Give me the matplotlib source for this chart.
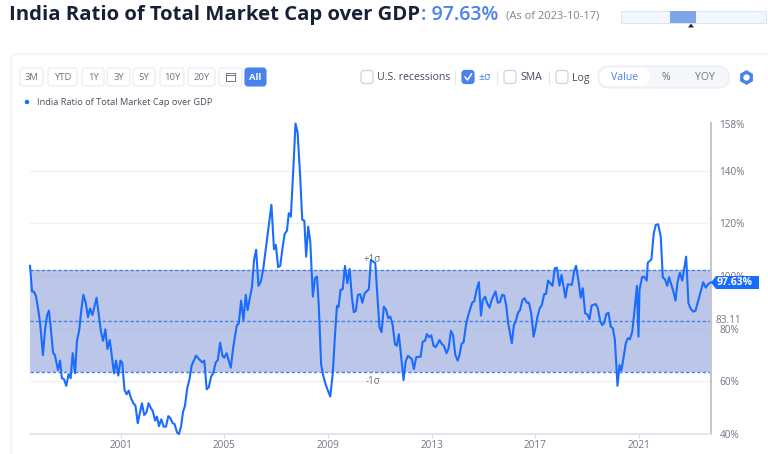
import matplotlib
matplotlib.use('Agg')
import matplotlib.pyplot as plt
from matplotlib.patches import FancyBboxPatch, Rectangle, Polygon, Circle

plt.rcParams.update({'font.family': ['Open Sans', 'DejaVu Sans'], 'font.size': 8})

years = [
    1997.50, 1997.58, 1997.65, 1997.73, 1997.82, 1997.89, 1998.00, 1998.08, 1998.16, 1998.23,
    1998.31, 1998.39, 1998.46, 1998.58, 1998.66, 1998.73, 1998.81, 1998.90, 1998.99, 1999.07,
    1999.15, 1999.24, 1999.31, 1999.40, 1999.48, 1999.56, 1999.65, 1999.74, 1999.82, 1999.91,
    2000.07, 2000.18, 2000.24, 2000.32, 2000.41, 2000.49, 2000.58, 2000.67, 2000.74, 2000.82,
    2000.91, 2000.99, 2001.06, 2001.15, 2001.23, 2001.31, 2001.40, 2001.49, 2001.57, 2001.66,
    2001.82, 2001.91, 2001.99, 2002.08, 2002.17, 2002.24, 2002.33, 2002.40, 2002.48, 2002.57,
    2002.66, 2002.75, 2002.84, 2002.92, 2003.01, 2003.08, 2003.18, 2003.25, 2003.33, 2003.41,
    2003.48, 2003.57, 2003.65, 2003.74, 2003.91, 2004.06, 2004.15, 2004.23, 2004.32, 2004.40,
    2004.49, 2004.58, 2004.67, 2004.75, 2004.84, 2004.93, 2005.00, 2005.09, 2005.25, 2005.35,
    2005.48, 2005.56, 2005.65, 2005.74, 2005.83, 2005.90, 2006.07, 2006.15, 2006.23, 2006.32,
    2006.41, 2006.50, 2006.60, 2006.68, 2006.82, 2006.92, 2006.99, 2007.08, 2007.16, 2007.24,
    2007.33, 2007.42, 2007.49, 2007.57, 2007.67, 2007.75, 2007.83, 2007.93, 2008.01, 2008.09,
    2008.16, 2008.24, 2008.32, 2008.42, 2008.50, 2008.58, 2008.65, 2008.74, 2008.83, 2008.92,
    2009.09, 2009.19, 2009.27, 2009.35, 2009.41, 2009.49, 2009.57, 2009.66, 2009.75, 2009.84,
    2009.93, 2010.00, 2010.08, 2010.16, 2010.25, 2010.33, 2010.42, 2010.58, 2010.66, 2010.83,
    2010.92, 2010.99, 2011.07, 2011.16, 2011.25, 2011.33, 2011.41, 2011.50, 2011.59, 2011.66,
    2011.74, 2011.83, 2011.92, 2012.00, 2012.09, 2012.24, 2012.32, 2012.41, 2012.58, 2012.66,
    2012.75, 2012.82, 2012.91, 2012.99, 2013.08, 2013.16, 2013.31, 2013.40, 2013.48, 2013.58,
    2013.66, 2013.75, 2013.83, 2013.92, 2014.01, 2014.08, 2014.16, 2014.24, 2014.33, 2014.42,
    2014.57, 2014.65, 2014.74, 2014.83, 2014.91, 2014.98, 2015.07, 2015.15, 2015.24, 2015.32,
    2015.47, 2015.56, 2015.64, 2015.73, 2015.81, 2015.89, 2015.96, 2016.10, 2016.18, 2016.25,
    2016.34, 2016.42, 2016.51, 2016.59, 2016.68, 2016.76, 2016.85, 2016.94, 2017.01, 2017.09,
    2017.18, 2017.26, 2017.35, 2017.42, 2017.50, 2017.67, 2017.76, 2017.84, 2017.94, 2018.02,
    2018.17, 2018.26, 2018.42, 2018.51, 2018.58, 2018.69, 2018.76, 2018.84, 2018.93, 2019.01,
    2019.10, 2019.18, 2019.34, 2019.42, 2019.51, 2019.59, 2019.66, 2019.75, 2019.83, 2019.92,
    2020.00, 2020.08, 2020.18, 2020.26, 2020.33, 2020.42, 2020.50, 2020.58, 2020.66, 2020.75,
    2020.84, 2020.93, 2020.99, 2021.03, 2021.13, 2021.21, 2021.31, 2021.35, 2021.49, 2021.58,
    2021.66, 2021.75, 2021.85, 2021.93, 2022.01, 2022.10, 2022.17, 2022.34, 2022.42, 2022.50,
    2022.59, 2022.68, 2022.83, 2022.92, 2023.01, 2023.11, 2023.19, 2023.27, 2023.36, 2023.49,
    2023.59, 2023.68, 2023.79,
]
ratio = [
    103.9, 94.1, 94.1, 92.5, 87.1, 82.1, 70.0, 79.5, 85.2, 86.9,
    79.5, 70.9, 70.0, 64.3, 67.9, 61.2, 60.9, 58.3, 62.8, 61.2,
    70.7, 63.1, 75.1, 79.5, 87.1, 92.9, 89.9, 84.4, 87.7, 85.2,
    91.8, 83.3, 78.9, 75.4, 79.8, 72.3, 75.7, 68.8, 63.1, 67.9,
    62.2, 67.9, 67.2, 56.7, 55.1, 56.5, 53.6, 51.7, 50.8, 44.1,
    51.7, 47.2, 48.1, 51.7, 49.8, 48.7, 45.1, 46.6, 43.0, 45.6,
    42.8, 42.8, 46.8, 46.0, 44.1, 43.8, 40.5, 40.0, 42.8, 48.5,
    50.6, 57.4, 60.5, 66.0, 69.8, 68.1, 67.2, 67.9, 57.0, 57.7,
    61.8, 63.3, 67.2, 68.1, 74.7, 69.7, 69.0, 70.7, 65.2, 73.2,
    81.1, 82.1, 90.7, 83.3, 92.9, 87.1, 96.0, 106.2, 110.0, 96.3,
    97.9, 102.4, 110.0, 116.3, 127.1, 110.2, 111.9, 103.4, 103.9, 110.0,
    116.0, 117.3, 123.9, 122.6, 141.6, 158.0, 154.6, 137.8, 121.4, 121.1,
    107.4, 118.8, 113.1, 92.2, 99.2, 99.8, 88.4, 66.2, 61.8, 58.6,
    54.2, 63.1, 77.0, 88.7, 88.2, 94.8, 95.0, 103.9, 97.3, 102.7,
    91.6, 86.3, 86.8, 92.9, 93.1, 89.9, 93.5, 95.0, 106.2, 104.9,
    90.9, 80.6, 78.7, 88.4, 87.1, 84.0, 84.6, 81.4, 74.1, 73.5,
    77.9, 69.4, 60.5, 67.5, 69.7, 68.5, 64.7, 69.2, 69.4, 75.1,
    75.4, 78.0, 76.8, 77.5, 73.5, 73.0, 75.7, 74.2, 73.5, 70.7,
    72.6, 79.2, 77.6, 70.0, 67.9, 70.0, 74.2, 74.9, 81.4, 85.2,
    89.9, 90.4, 94.8, 97.7, 85.0, 90.9, 92.2, 89.7, 88.0, 90.9,
    94.2, 89.9, 90.1, 92.9, 92.6, 88.4, 82.1, 74.5, 81.4, 82.7,
    86.1, 87.1, 90.9, 91.6, 89.9, 89.9, 85.9, 77.0, 80.2, 84.6,
    87.8, 89.0, 93.2, 93.2, 98.3, 96.3, 103.0, 103.2, 96.4, 100.5,
    91.8, 96.9, 96.7, 102.1, 103.9, 97.3, 91.8, 95.4, 85.9, 85.5,
    83.6, 88.8, 89.4, 87.8, 83.0, 81.4, 82.1, 85.6, 86.1, 80.8,
    80.2, 75.7, 58.3, 66.2, 64.1, 69.4, 74.5, 76.4, 76.0, 78.9,
    87.1, 96.3, 77.0, 94.8, 99.6, 99.8, 98.3, 105.1, 106.4, 116.3,
    119.5, 119.7, 115.0, 99.4, 98.9, 96.3, 99.6, 94.1, 90.7, 97.9,
    101.3, 98.3, 107.4, 89.7, 87.5, 86.5, 86.8, 89.7, 92.9, 97.7,
    95.6, 97.0, 97.63,
]
mean_val = 83.11
plus_sigma = 102.4
minus_sigma = 63.4

x_ticks = [2001, 2005, 2009, 2013, 2017, 2021]
y_ticks = [40, 60, 80, 100, 120, 140, 158]

period_labels = ['3M', 'YTD', '1Y', '3Y', '5Y', '10Y', '20Y']
period_left = [20, 48, 82, 107, 133, 160, 188]
period_right = [43, 77, 104, 130, 155, 184, 215]

blue = '#1a6cff'
soft_blue = '#4a82ec'
grey = '#6f7583'
W, H = 768, 454

fig = plt.figure(figsize=(W / 100, H / 100), dpi=100, facecolor='white')

# page furniture, drawn in pixel coordinates
ui = fig.add_axes([0, 0, 1, 1], zorder=0)
ui.set_xlim(0, W)
ui.set_ylim(H, 0)
ui.axis('off')

ui.add_patch(FancyBboxPatch((11, 54), 780, 420, boxstyle='round,pad=0,rounding_size=6',
                            fc='white', ec='#f1f2f5', lw=1))

ui.text(9, 15, 'India Ratio of Total Market Cap over GDP', fontsize=14.55, fontweight='bold',
        color='#182036', va='center', ha='left', family='Open Sans')
ui.text(421, 15, ': 97.63%', fontsize=14, color=soft_blue, va='center', ha='left', fontweight='semibold')
ui.text(506, 16, '(As of 2023-10-17)', fontsize=8, color='#7d8494', va='center', ha='left')

ui.add_patch(Rectangle((621, 11), 145, 12, fc='#f2f6fd', ec='#dfe5f0', lw=0.7))
ui.add_patch(Rectangle((670, 11), 26, 12, fc='#7ea4ea', ec='none'))
ui.add_patch(Polygon([[691, 23.5], [688, 27.5], [694, 27.5]], fc='#222a3a', ec='none'))


def button(x0, x1, label, active=False):
    ui.add_patch(FancyBboxPatch((x0, 68), x1 - x0, 18, boxstyle='round,pad=0,rounding_size=3',
                                fc=soft_blue if active else 'white',
                                ec=soft_blue if active else '#e8eaf0', lw=0.8))
    ui.text((x0 + x1) / 2, 77.5, label, fontsize=6.8, ha='center', va='center',
            color='white' if active else grey, fontweight='bold' if active else 'normal')


def checkbox(x0, label, text_x, checked=False, color='#444b5a'):
    ui.add_patch(FancyBboxPatch((x0, 70.5), 12, 13, boxstyle='round,pad=0,rounding_size=3',
                                fc=soft_blue if checked else 'white',
                                ec=soft_blue if checked else '#cfd3dc', lw=0.9))
    if checked:
        ui.plot([x0 + 3, x0 + 5.5, x0 + 9.5], [77, 80, 74], color='white', lw=1.1)
    ui.text(text_x, 78, label, fontsize=7.6, va='center', ha='left', color=color)


for lab, x0, x1 in zip(period_labels, period_left, period_right):
    button(x0, x1, lab)
button(219, 242, '')
ui.add_patch(Rectangle((226, 72.5), 9, 8.5, fc='none', ec=grey, lw=0.7))
ui.plot([226, 235], [75, 75], color=grey, lw=0.7)
button(245, 266, 'All', active=True)

checkbox(361, 'U.S. recessions', 377)
checkbox(462, '±σ', 478, checked=True, color=soft_blue)
checkbox(504, 'SMA', 520)
checkbox(556, 'Log', 572)
for sx in [455, 497, 549]:
    ui.plot([sx, sx], [71, 84], color='#e3e5ea', lw=0.8)

ui.add_patch(FancyBboxPatch((598, 66), 131, 22, boxstyle='round,pad=0,rounding_size=11',
                            fc='#f5f7fb', ec='#e8ebf2', lw=0.8))
ui.add_patch(FancyBboxPatch((600, 68), 50, 18, boxstyle='round,pad=0,rounding_size=9',
                            fc='white', ec='none'))
ui.text(625, 77.5, 'Value', fontsize=7.6, color=soft_blue, ha='center', va='center')
ui.text(666, 77.5, '%', fontsize=7.6, color=grey, ha='center', va='center')
ui.text(705, 77.5, 'YOY', fontsize=7.6, color=grey, ha='center', va='center')
ui.plot([746], [77], marker='h', ms=9.5, color=soft_blue, ls='none')
ui.plot([746], [77], marker='o', ms=3.5, color='white', ls='none')

ui.add_patch(Circle((27, 102), 2.2, fc=blue, ec='none'))
ui.text(37, 102.5, 'India Ratio of Total Market Cap over GDP', fontsize=6.7, color='#4a5160',
        va='center', ha='left')

# the chart itself
ax = fig.add_axes([30 / W, (H - 434) / H, 681 / W, 310.5 / H], zorder=1)
ax.patch.set_alpha(0)
ax.set_xlim(1997.50, 2023.79)
ax.set_ylim(40, 158)

ax.grid(axis='y', color='#eff1f5', lw=1)
ax.set_axisbelow(True)
ax.axhspan(minus_sigma, plus_sigma, color='#9fafdf', alpha=0.7, lw=0, zorder=1)
for lev in [plus_sigma, mean_val, minus_sigma]:
    ax.axhline(lev, color=soft_blue, lw=1, ls=(0, (2.5, 1.5)), zorder=2)

ax.text(2010.72, 106.4, '+1σ', fontsize=7, color='#6b6f7a', ha='center', va='center', zorder=2)
ax.text(2010.72, 60.0, '-1σ', fontsize=7, color='#6b6f7a', ha='center', va='center', zorder=2)

ax.plot(years, ratio, color=blue, lw=1.5, solid_joinstyle='round', clip_on=False, zorder=3)

for side in ['top', 'left']:
    ax.spines[side].set_visible(False)
ax.spines['bottom'].set_color('#e0e2ea')
ax.spines['bottom'].set_linewidth(1.2)
ax.spines['right'].set_color('#c3c6ce')
ax.spines['right'].set_linewidth(1.5)

ax.set_xticks(x_ticks)
ax.set_xticklabels([str(t) for t in x_ticks])
ax.tick_params(axis='x', length=3, width=0.8, color='#d8dbe3', labelsize=7.2, labelcolor=grey, pad=1.5)
ax.yaxis.tick_right()
ax.set_yticks(y_ticks)
ax.set_yticklabels([f'{t}%' for t in y_ticks])
ax.tick_params(axis='y', length=0, labelsize=7.2, labelcolor=grey, pad=6)

ax.annotate(f'{mean_val:.2f}', (1, mean_val), xycoords=('axes fraction', 'data'),
            xytext=(3, -0.2), textcoords='offset points', fontsize=7.2, color=grey, va='center')

# current value flag
ui_top = fig.add_axes([0, 0, 1, 1], zorder=2)
ui_top.set_xlim(0, W)
ui_top.set_ylim(H, 0)
ui_top.axis('off')
ui_top.add_patch(Polygon([[711, 282.5], [716, 276], [759, 276], [759, 289], [716, 289]],
                         fc=blue, ec='none'))
ui_top.text(717, 282.5, '97.63%', fontsize=7.4, color='white', fontweight='bold', va='center', ha='left')

fig.savefig('out.png', dpi=100)
